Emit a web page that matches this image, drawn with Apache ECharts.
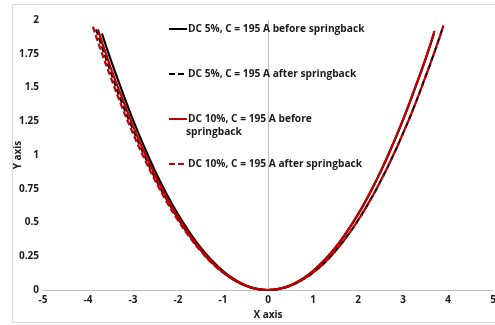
<!DOCTYPE html>
<html>
<head>
<meta charset="utf-8">
<script src="https://cdn.jsdelivr.net/npm/echarts@6/dist/echarts.min.js"></script>
<style>
  html, body { margin: 0; padding: 0; background: #fff; }
  #chart { width: 495px; height: 325px; }
</style>
</head>
<body>
<div id="chart"></div>
<script>
// Profile curves: [x, y] points
const dc5Before = [
  [-3.69, 1.90], [-3.5, 1.71], [-3.25, 1.48], [-3, 1.26], [-2.75, 1.06], [-2.5, 0.875],
  [-2.25, 0.71], [-2, 0.56], [-1.75, 0.43], [-1.5, 0.315], [-1.25, 0.22], [-1, 0.14],
  [-0.75, 0.08], [-0.5, 0.035], [-0.25, 0.009], [0, 0], [0.25, 0.009], [0.5, 0.035],
  [0.75, 0.079], [1, 0.14], [1.25, 0.22], [1.5, 0.315], [1.75, 0.43], [2, 0.56],
  [2.25, 0.71], [2.5, 0.875], [2.75, 1.06], [3, 1.26], [3.25, 1.48], [3.5, 1.71], [3.69, 1.90]
];
const dc5After = [
  [-3.82, 1.93], [-3.5, 1.62], [-3.25, 1.39], [-3, 1.19], [-2.75, 1.00], [-2.5, 0.825],
  [-2.25, 0.67], [-2, 0.53], [-1.75, 0.405], [-1.5, 0.297], [-1.25, 0.206], [-1, 0.132],
  [-0.75, 0.074], [-0.5, 0.033], [-0.25, 0.008], [0, 0], [0.25, 0.008], [0.5, 0.032],
  [0.75, 0.073], [1, 0.129], [1.25, 0.20], [1.5, 0.29], [1.75, 0.395], [2, 0.516],
  [2.25, 0.653], [2.5, 0.806], [2.75, 0.975], [3, 1.16], [3.25, 1.36], [3.5, 1.58],
  [3.75, 1.81], [3.89, 1.95]
];
const dc10Before = [
  [-3.78, 1.93], [-3.5, 1.65], [-3.25, 1.43], [-3, 1.215], [-2.75, 1.02], [-2.5, 0.845],
  [-2.25, 0.683], [-2, 0.54], [-1.75, 0.413], [-1.5, 0.304], [-1.25, 0.211], [-1, 0.135],
  [-0.75, 0.076], [-0.5, 0.034], [-0.25, 0.008], [0, 0], [0.25, 0.009], [0.5, 0.035],
  [0.75, 0.079], [1, 0.14], [1.25, 0.22], [1.5, 0.315], [1.75, 0.43], [2, 0.56],
  [2.25, 0.71], [2.5, 0.875], [2.75, 1.06], [3, 1.26], [3.25, 1.48], [3.5, 1.71], [3.7, 1.92]
];
const dc10After = [
  [-3.89, 1.95], [-3.75, 1.81], [-3.5, 1.58], [-3.25, 1.36], [-3, 1.16], [-2.75, 0.975],
  [-2.5, 0.806], [-2.25, 0.653], [-2, 0.516], [-1.75, 0.395], [-1.5, 0.29], [-1.25, 0.20],
  [-1, 0.129], [-0.75, 0.073], [-0.5, 0.032], [-0.25, 0.008], [0, 0], [0.25, 0.008],
  [0.5, 0.032], [0.75, 0.073], [1, 0.129], [1.25, 0.20], [1.5, 0.29], [1.75, 0.395],
  [2, 0.516], [2.25, 0.653], [2.5, 0.806], [2.75, 0.975], [3, 1.16], [3.25, 1.36],
  [3.5, 1.58], [3.75, 1.81], [3.9, 1.96]
];

const seriesNames = [
  'DC 5%, C = 195 A before springback',
  'DC 5%, C = 195 A after springback',
  'DC 10%, C = 195 A before springback',
  'DC 10%, C = 195 A after springback'
];
const xTicks = { min: -5, max: 5, interval: 1 };
const yTicks = { min: 0, max: 2, interval: 0.25 };

const FONT = '"Open Sans"';
const textDark = '#1a1a1a';
const legendText = { fontFamily: FONT, fontWeight: 'bold', fontSize: 10.2, color: textDark };

function legendAt(name, top, label) {
  return {
    data: [name],
    left: 168,
    top: top,
    itemWidth: 18,
    itemHeight: 10,
    itemGap: 0,
    padding: 0,
    selectedMode: false,
    itemStyle: { opacity: 0 },
    textStyle: Object.assign({ padding: [0, 0, 0, -4] }, legendText),
    formatter: () => label
  };
}

function lineSeries(name, data, color, dashed) {
  return {
    name: name,
    type: 'line',
    data: data,
    smooth: true,
    showSymbol: false,
    symbol: 'none',
    lineStyle: { color: color, width: 2.2, type: dashed ? [6, 3] : 'solid' },
    itemStyle: { color: color },
    emphasis: { disabled: true },
    animation: false
  };
}

const chart = echarts.init(document.getElementById('chart'));
chart.setOption({
  backgroundColor: '#fff',
  animation: false,
  grid: { left: 43, right: 2, top: 20, bottom: 35, outerBoundsMode: 'none' },
  xAxis: {
    type: 'value',
    min: xTicks.min, max: xTicks.max, interval: xTicks.interval,
    name: 'X axis', nameLocation: 'middle', nameGap: 14,
    nameTextStyle: { fontFamily: FONT, fontWeight: 'bold', fontSize: 10, color: textDark },
    axisLine: { show: true, onZero: false, lineStyle: { color: '#bfbfbf', width: 1 } },
    axisTick: { show: false },
    splitLine: { show: false },
    axisLabel: { fontFamily: FONT, fontWeight: 'bold', fontSize: 10, color: textDark, margin: 5 }
  },
  yAxis: {
    type: 'value',
    min: yTicks.min, max: yTicks.max, interval: yTicks.interval,
    name: 'Y axis', nameLocation: 'middle', nameGap: 20, nameRotate: 90,
    nameMoveOverlap: false,
    nameTextStyle: { fontFamily: FONT, fontWeight: 'bold', fontSize: 10, color: textDark },
    axisLine: { show: true, lineStyle: { color: '#bfbfbf', width: 1 } },
    axisTick: { show: false },
    splitLine: { show: false },
    axisLabel: { fontFamily: FONT, fontWeight: 'bold', fontSize: 10, color: textDark, margin: 4 }
  },
  legend: [
    legendAt(seriesNames[0], 24, seriesNames[0]),
    legendAt(seriesNames[1], 69, seriesNames[1]),
    legendAt(seriesNames[2], 114, 'DC 10%, C = 195 A before'),
    legendAt(seriesNames[3], 159, seriesNames[3])
  ],
  graphic: [
    {
      type: 'rect', silent: true, z: -1,
      shape: { x: 12.5, y: 4.5, width: 490, height: 318 },
      style: { fill: 'none', stroke: '#d9d9d9', lineWidth: 1 }
    },
    {
      type: 'text', silent: true, left: 186, top: 127,
      style: { text: 'springback', font: 'bold 10.2px ' + FONT, fill: textDark }
    }
  ],
  series: [
    lineSeries(seriesNames[0], dc5Before, '#000000', false),
    lineSeries(seriesNames[1], dc5After, '#000000', true),
    lineSeries(seriesNames[2], dc10Before, '#c00000', false),
    lineSeries(seriesNames[3], dc10After, '#c00000', true)
  ]
});
</script>
</body>
</html>
